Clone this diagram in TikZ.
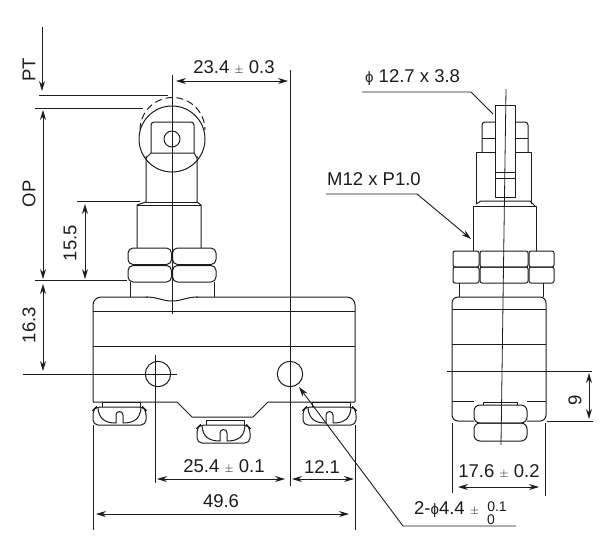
\documentclass[tikz,border=0pt]{standalone}
\usepackage{fontspec}
\setmainfont{Liberation Sans}
\usetikzlibrary{arrows.meta}
\definecolor{ink}{HTML}{1c1c1c}
\tikzstyle{part} = [draw=ink, line width=1pt, line join=round]
\tikzstyle{thin} = [draw=ink, line width=0.8pt]
\tikzstyle{dim} = [draw=ink, line width=0.9pt, {Stealth[length=10pt,width=6pt]}-{Stealth[length=10pt,width=6pt]}]
\tikzstyle{lead} = [draw=ink, line width=0.9pt, -{Stealth[length=10pt,width=6pt]}]
\tikzstyle{ext} = [draw=ink, line width=0.9pt]
\tikzstyle{lab} = [text=ink, font=\fontsize{18.5}{20}\selectfont, inner sep=0pt]
\tikzstyle{small} = [text=ink, font=\fontsize{14}{15}\selectfont, inner sep=0pt]
\newcommand{\pmsmall}{{\fontsize{12.5}{15}\selectfont$\pm$}}
\newcommand{\phismall}{{\fontsize{15}{15}\selectfont ϕ}}

\begin{document}
\begin{tikzpicture}[x=1pt,y=-1pt]
    \useasboundingbox (0,0) rectangle (615,547);
    % left view: roller and plunger
    \draw[part] (172,139) circle (33);
    \draw[part,dashed,dash pattern=on 7pt off 4pt] (140,130) arc (180:360:32.5);
    \draw[part] (172,139) circle (8);
    \draw[part,rounded corners=3pt] (151,153)--(151,122)--(194,122)--(194,153);
    \draw[part] (146,158)--(151,153)--(194,153)--(197,158);
    \draw[part] (146,156)--(146,202)--(137,205)--(137,248);
    \draw[part] (197,156)--(197,202)--(201,205)--(201,248);
    \draw[part] (146,202)--(197,202);
    \draw[part] (137,205)--(201,205);
    % left view: nut
    \foreach \y/\h in {248/264.5,265.5/282}{
        \draw[part,rounded corners=5pt] (171.5,\y)--(128,\y)--(128,\h)--(171.5,\h)--cycle;
        \draw[part,rounded corners=5pt] (172.5,\y)--(216,\y)--(216,\h)--(172.5,\h)--cycle;
    }
    \draw[part] (130,282)--(130,297);
    \draw[part] (214,282)--(214,297);
    % left view: body
    \draw[part,rounded corners=8pt] (93,402)--(93,297)--(355,297)--(355,402);
    \draw[draw=white,line width=2pt] (148,297)--(196,297);
    \draw[part] (146,297) .. controls (158,297) and (162,301) .. (172,301) .. controls (182,301) and (186,297) .. (198,297);
    \draw[part] (93,402)--(177,402)--(192,417)--(253,417)--(268,402)--(355,402);
    \draw[part] (93,311)--(355,311);
    \draw[part] (93,346)--(355,346);
    \draw[part] (158,374) circle (12.7);
    \draw[part] (290,374) circle (12.7);
    % left view: screws
    \foreach \xa/\ya in {93/407,197/425,303/407}{
        \draw[part] (\xa+9,\ya)--(\xa+9,\ya-5)--(\xa+47,\ya-5)--(\xa+47,\ya);
        \draw[part,rounded corners=5pt] (\xa+3,\ya)--(\xa,\ya+3)--(\xa,\ya+18)--(\xa+53,\ya+18)--(\xa+53,\ya+3)--(\xa+50,\ya)--cycle;
        \draw[part] (\xa+5,\ya+1) .. controls (\xa+6,\ya+12) and (\xa+12,\ya+16) .. (\xa+23,\ya+16)--(\xa+23,\ya+8) arc (180:360:3.5)--(\xa+30,\ya+16) .. controls (\xa+41,\ya+16) and (\xa+47,\ya+12) .. (\xa+48,\ya+1);
    }
    % left view: centre and dimension lines
    \draw[thin] (172,75)--(172,314);
    \draw[ext] (290,70)--(290,486);
    \draw[ext] (155,355)--(155,483);
    \draw[ext] (23,374)--(177,374);
    \draw[ext] (39,95)--(168,95);
    \draw[ext] (35,108)--(143,108);
    \draw[ext] (35,280)--(127,280);
    \draw[ext] (77,201)--(140,201);
    \draw[ext] (93,425)--(93,530);
    \draw[ext] (355,425)--(355,530);
    \draw[lead] (42,27)--(42,91);
    \draw[dim] (43,110)--(43,279);
    \draw[dim] (43,284)--(43,371);
    \draw[dim] (85,204)--(85,279);
    \draw[dim] (176,81)--(288,81);
    \draw[dim] (157,479)--(285,479);
    \draw[dim] (292,479)--(354,479);
    \draw[dim] (96,514)--(349,514);
    \node[lab,rotate=90](pt) at (29,70){PT};
    \node[lab,rotate=90](op) at (29,194){OP};
    \node[lab,rotate=90](s155) at (70,243){15.5};
    \node[lab,rotate=90](s163) at (29,325){16.3};
    \node[lab](s234) at (234,68){23.4 \pmsmall{} 0.3};
    \node[lab](s254) at (224,467){25.4 \pmsmall{} 0.1};
    \node[lab](s121) at (322,467){12.1};
    \node[lab](s496) at (221,501){49.6};
    % right view: roller side
    \draw[part,rounded corners=3pt] (482,152)--(482,122)--(495,122);
    \draw[part,rounded corners=3pt] (528,152)--(528,122)--(515,122);
    \draw[part] (482,138)--(495,138);
    \draw[part] (515,138)--(528,138);
    \draw[part] (495,105) rectangle (515,197);
    \draw[part] (495,172)--(515,172);
    \draw[part] (495,178)--(515,178);
    \draw[part] (495,152)--(476,152)--(476,204);
    \draw[part] (515,152)--(531,152)--(531,204);
    \draw[part] (476,204)--(481,201)--(530,201)--(535,206);
    \draw[part] (473,251)--(473,206)--(536,206)--(536,251);
    % right view: nut
    \foreach \xa/\xb in {453/479,480/528,529/554}{
        \draw[part,rounded corners=2pt] (\xa,251) rectangle (\xb,267);
        \draw[part,rounded corners=2pt] (\xa,267) rectangle (\xb,283);
    }
    \draw[part] (459,283)--(459,297);
    \draw[part] (543,283)--(543,297);
    % right view: body
    \draw[part,rounded corners=6pt] (474,421)--(452,421)--(452,297)--(546,297)--(546,421)--(527,421);
    \draw[part] (452,309)--(546,309);
    \draw[part] (452,344)--(546,344);
    \draw[part] (452,401)--(474,401);
    \draw[part] (527,401)--(546,401);
    \draw[part] (483,405)--(483,402)--(517,402)--(517,405);
    \draw[part,rounded corners=6pt] (474,405) rectangle (527,423);
    \draw[part,rounded corners=6pt] (474,423) rectangle (527,441);
    % right view: centre and dimension lines
    \draw[thin] (506,89)--(501,445);
    \draw[ext] (447,371)--(592,371);
    \draw[ext] (547,421)--(593,421);
    \draw[ext] (452,423)--(452,493);
    \draw[ext] (545,423)--(545,496);
    \draw[dim] (589,373)--(589,419);
    \draw[dim] (458,487)--(539,487);
    \draw[ext] (362,92)--(471,92)--(493,114);
    \draw[lead] (326,194)--(417,194)--(471,239);
    \draw[lead] (516,526)--(403,526)--(299,387);
    \node[lab,rotate=90](s9) at (575,400){9};
    \node[lab](s176) at (499,472){17.6 \pmsmall{} 0.2};
    \node[lab,anchor=west](rolsize) at (365,78){\phismall{} 12.7 x 3.8};
    \node[lab,anchor=west](thread) at (327,179){M12 x P1.0};
    \node[lab,anchor=west](holes) at (414,510){2-\phismall{}4.4 \pmsmall};
    \node[small](tolup) at (497,507){0.1};
    \node[small](toldn) at (491,520){0};
\end{tikzpicture}
\end{document}
